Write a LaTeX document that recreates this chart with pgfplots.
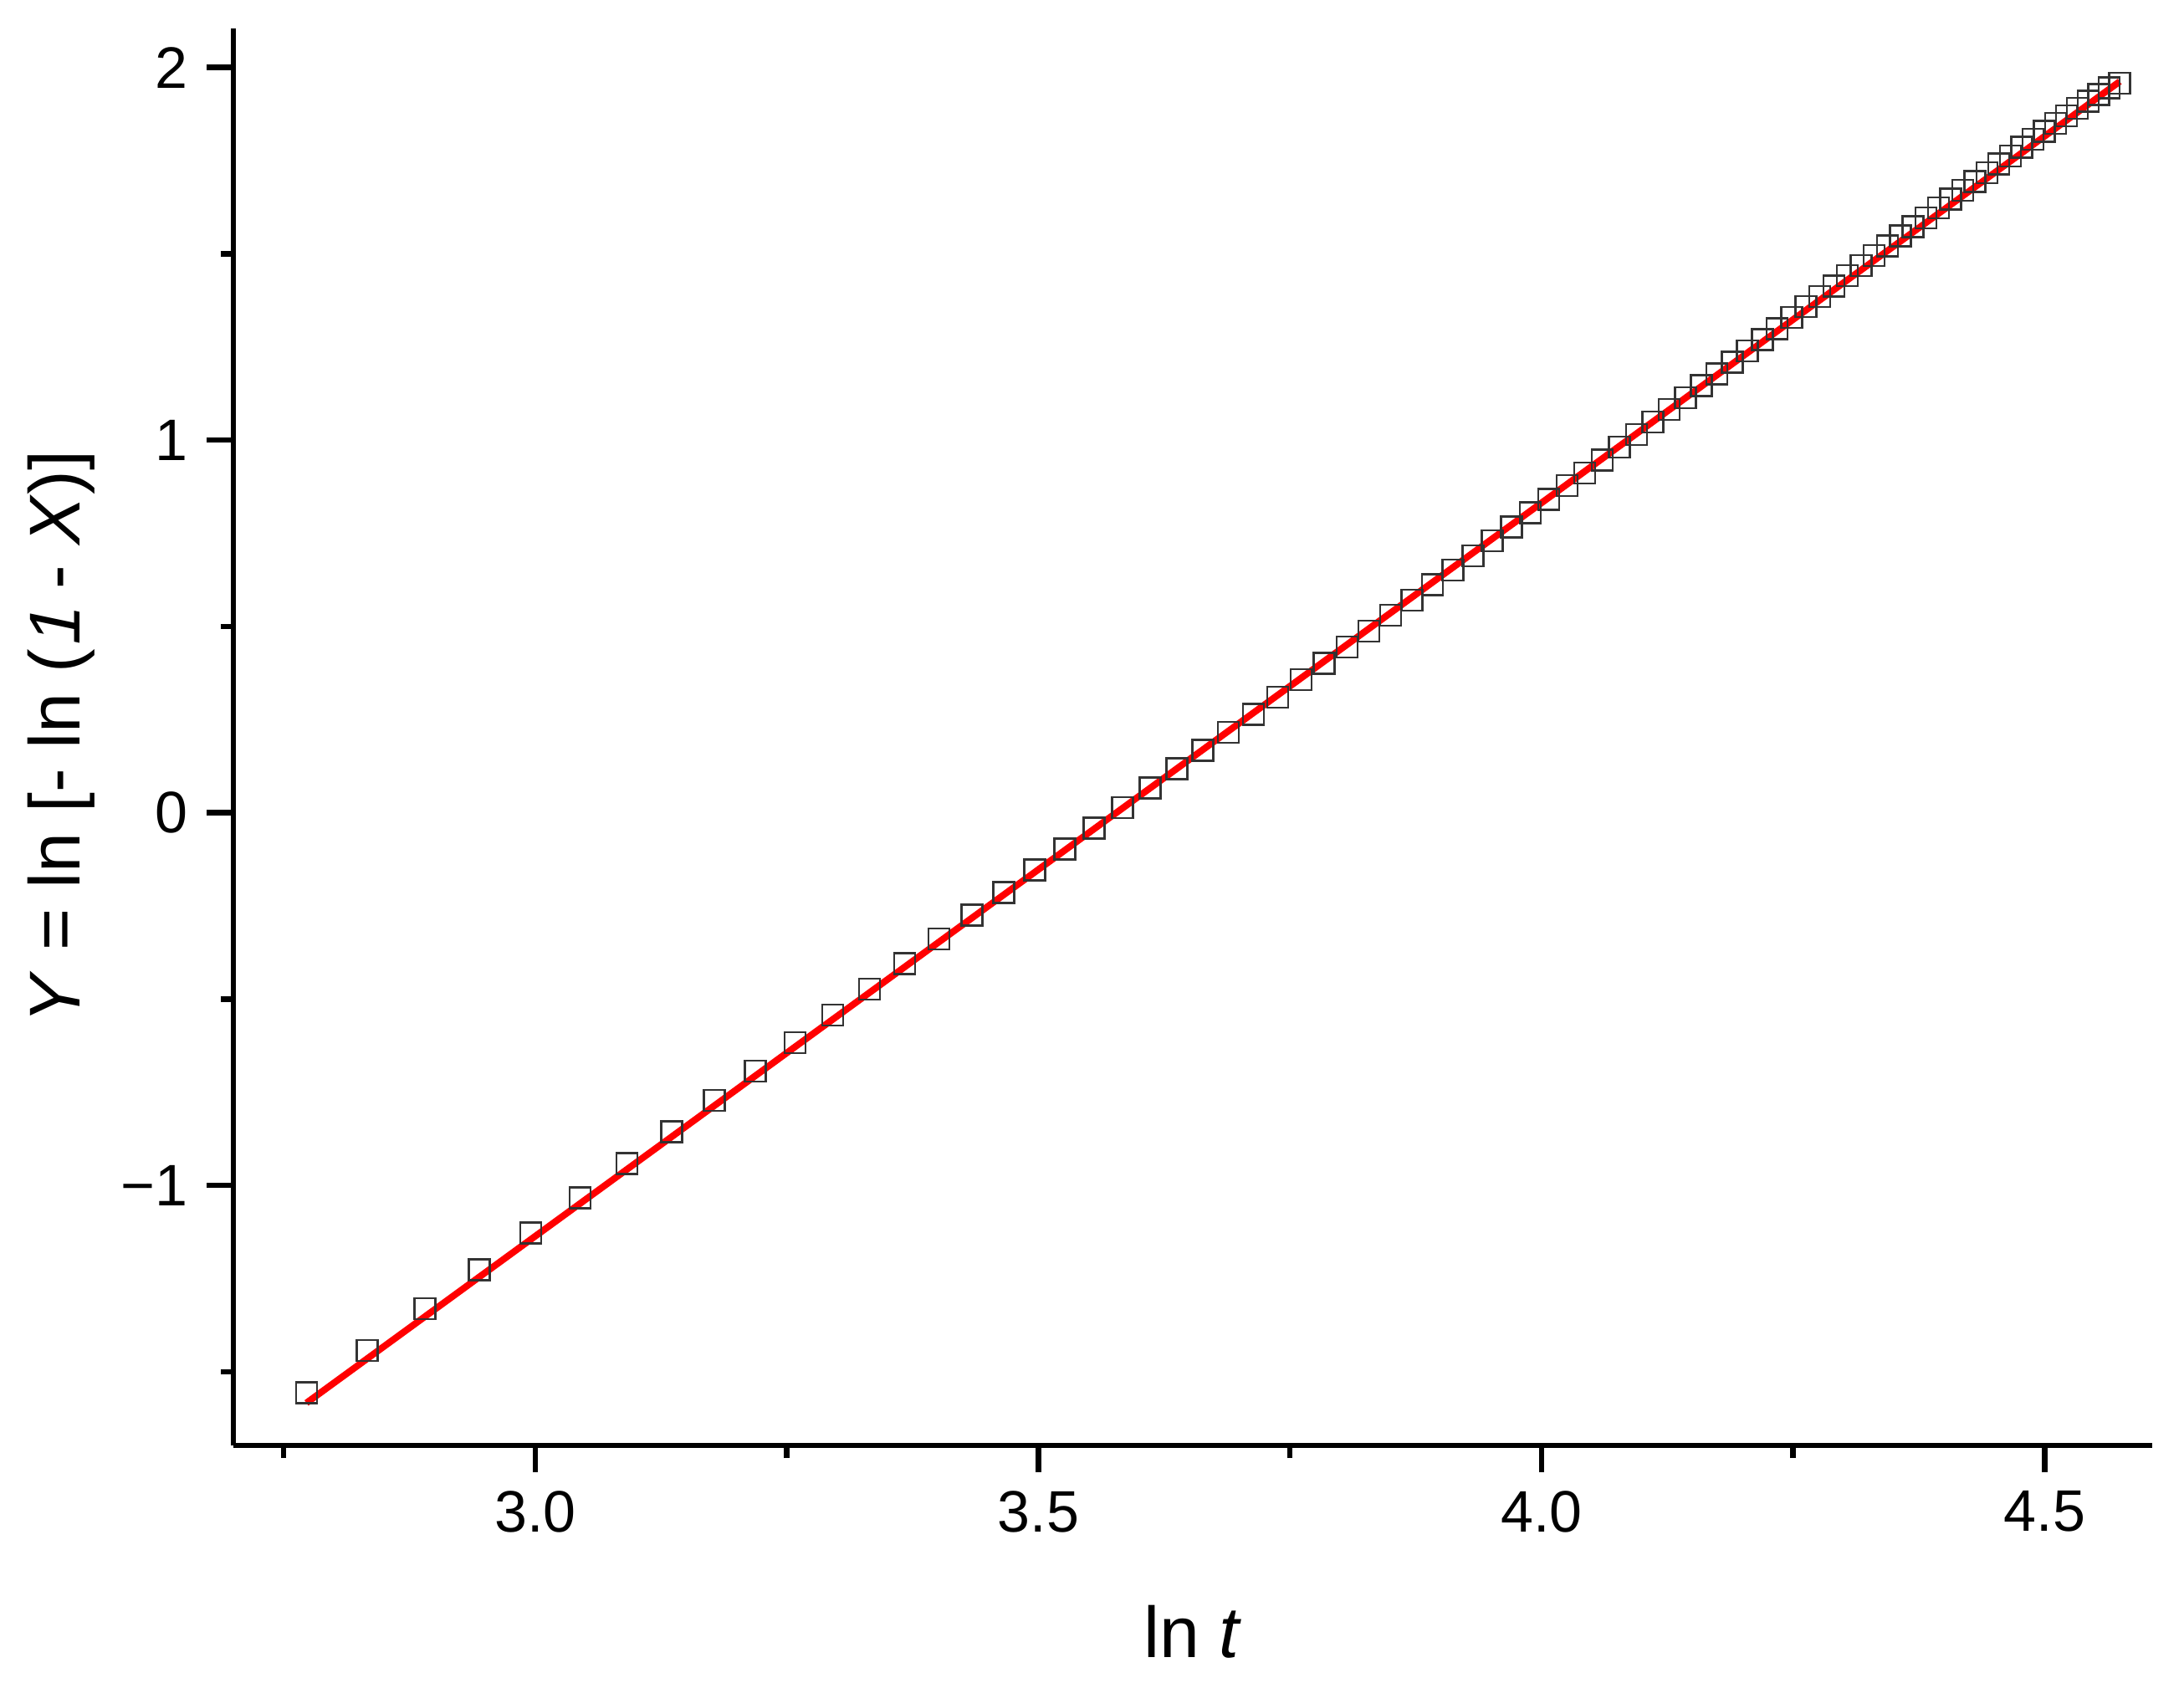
\documentclass[border=0pt]{standalone}
\usepackage{fontspec}
\setmainfont{Liberation Sans}
\newfontface\slantsans[FakeSlant=0.21]{Liberation Sans}
\usepackage{pgfplots}
\pgfplotsset{compat=1.18}

% ln t against Y = ln[-ln(1-X)]
\pgfplotstableread{
x y
2.7726 -1.557
2.8332 -1.443
2.8904 -1.331
2.9444 -1.227
2.9957 -1.128
3.0445 -1.033
3.0910 -0.941
3.1355 -0.856
3.1781 -0.772
3.2189 -0.693
3.2581 -0.617
3.2958 -0.543
3.3322 -0.473
3.3673 -0.405
3.4012 -0.339
3.4340 -0.275
3.4657 -0.214
3.4965 -0.154
3.5264 -0.097
3.5553 -0.041
3.5835 0.014
3.6109 0.067
3.6376 0.118
3.6636 0.168
3.6889 0.216
3.7136 0.264
3.7377 0.310
3.7612 0.357
3.7842 0.401
3.8067 0.445
3.8286 0.487
3.8501 0.530
3.8712 0.571
3.8918 0.612
3.9120 0.651
3.9318 0.690
3.9512 0.730
3.9703 0.767
3.9890 0.805
4.0073 0.841
4.0254 0.878
4.0431 0.912
4.0604 0.947
4.0775 0.981
4.0943 1.015
4.1109 1.049
4.1271 1.082
4.1431 1.114
4.1589 1.146
4.1744 1.178
4.1897 1.209
4.2047 1.239
4.2195 1.270
4.2341 1.299
4.2485 1.329
4.2627 1.358
4.2767 1.386
4.2905 1.414
4.3041 1.442
4.3175 1.468
4.3307 1.495
4.3438 1.521
4.3567 1.548
4.3694 1.573
4.3820 1.597
4.3944 1.623
4.4067 1.647
4.4188 1.671
4.4308 1.694
4.4427 1.718
4.4543 1.741
4.4659 1.763
4.4773 1.786
4.4886 1.808
4.4998 1.829
4.5109 1.850
4.5218 1.870
4.5326 1.891
4.5433 1.910
4.5539 1.928
4.5643 1.945
4.5747 1.958
}\avrami

\begin{document}
\begin{tikzpicture}
\begin{axis}[
  scale only axis,
  width=458.8pt, height=338.8pt,
  xmin=2.70, xmax=4.607, ymin=-1.698, ymax=2.105,
  axis lines*=left,
  axis line style={line width=1.3pt, black},
  tick style={line width=1.3pt, black},
  tick align=outside,
  major tick length=6.4pt, minor tick length=3pt,
  xtick={3.0,3.5,4.0,4.5},
  xticklabels={3.0,3.5,4.0,4.5},
  minor xtick={2.75,3.25,3.75,4.25},
  ytick={-1,0,1,2},
  yticklabels={−1,0,1,2},
  minor ytick={-1.5,-0.5,0.5,1.5},
  tick label style={font=\fontsize{14}{16}\selectfont},
  xticklabel style={yshift=-0.9pt},
  yticklabel style={xshift=-1pt},
  label style={font=\fontsize{17.2}{20}\selectfont},
  xlabel={ln \textit{t}},
  ylabel={\textit{Y} = ln [- ln ({\slantsans 1} - \textit{X})]},
  xlabel style={at={(axis description cs:0.5,-0.1499)}, anchor=base},
  ylabel style={at={(axis description cs:-0.0798,0.5)}, anchor=base, rotate=0},
]
\addplot[only marks, mark=square, mark size=2.5pt,
         mark options={draw=black!80, line width=0.5pt}]
  table[x=x, y=y] {\avrami};
% linear fit
\addplot[red, line width=1.6pt] coordinates {(2.7726,-1.584) (4.5747,1.9625)};
\end{axis}
\pgfresetboundingbox
\path[use as bounding box] (current axis.south west) ++(-55.8pt,-56.6pt)
  rectangle ([shift={(7.6pt,6.8pt)}]current axis.north east);
\end{tikzpicture}
\end{document}
